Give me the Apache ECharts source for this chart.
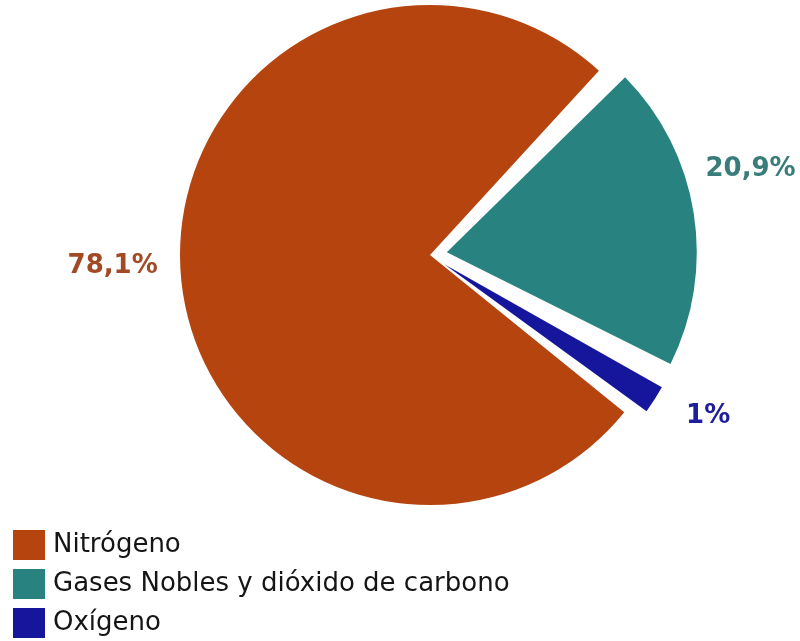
<!DOCTYPE html>
<html>
<head>
<meta charset="utf-8">
<script src="https://cdn.jsdelivr.net/npm/echarts@6/dist/echarts.min.js"></script>
<style>
html,body{margin:0;padding:0;background:#fff;}
#chart{width:800px;height:641px;}
</style>
</head>
<body>
<div id="chart"></div>
<script>
var categories = ['Nitrógeno', 'Gases Nobles y dióxido de carbono', 'Oxígeno'];
var values = [78.1, 20.9, 1];
var valueLabels = ['78,1%', '20,9%', '1%'];
var sliceColors = ['#B5440E', '#28827F', '#16169C'];
var labelColors = ['#A24A25', '#3A7C7A', '#1E1E9C'];
var explodedFlags = [false, true, true];

// label nudges (layout only)
var labelNudge = [[4, -9], [-15, -41], [8, 5]];

var chart = echarts.init(document.getElementById('chart'), null, {renderer: 'canvas'});

var data = categories.map(function (name, i) {
  return {
    name: name,
    value: values[i],
    selected: explodedFlags[i],
    itemStyle: {color: sliceColors[i]},
    label: {color: labelColors[i]}
  };
});

chart.setOption({
  animation: false,
  backgroundColor: '#ffffff',
  legend: {
    orient: 'vertical',
    left: 13,
    top: 530,
    height: 111,
    padding: 0,
    icon: 'rect',
    itemWidth: 32,
    itemHeight: 30,
    itemGap: 9,
    selectedMode: false,
    textStyle: {fontFamily: 'DejaVu Sans', fontSize: 26, lineHeight: 30, color: '#151515', padding: [0, 0, 0, 3]},
    data: categories
  },
  series: [{
    type: 'pie',
    center: [430, 255],
    radius: [0, 250],
    startAngle: 322.5,
    clockwise: true,
    padAngle: 3,
    minAngle: 6.5,
    selectedMode: 'multiple',
    selectedOffset: 17,
    avoidLabelOverlap: false,
    emphasis: {disabled: true},
    label: {
      show: true,
      position: 'outside',
      fontFamily: 'DejaVu Sans',
      fontWeight: 'bold',
      fontSize: 26,
      formatter: function (p) { return valueLabels[p.dataIndex]; }
    },
    labelLine: {show: false, length: 22, length2: 0},
    labelLayout: function (p) {
      var n = labelNudge[p.dataIndex];
      return {dx: n[0], dy: n[1]};
    },
    data: data
  }]
});
</script>
</body>
</html>
